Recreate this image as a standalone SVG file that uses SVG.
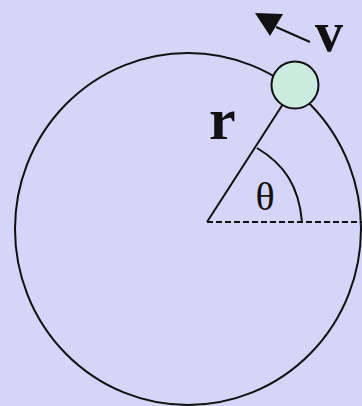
<svg xmlns="http://www.w3.org/2000/svg" width="362" height="406" viewBox="0 0 362 406">
<style>
.ln{fill:none;stroke:#111;stroke-width:2}
.lbl{font-family:"Liberation Serif",serif;fill:#111}
</style>
<rect width="362" height="406" fill="#d5d5f7"/>
<g id="orbit"><ellipse class="ln" cx="188" cy="229" rx="173" ry="176"/></g>
<g id="connectors">
<line class="ln" x1="207" y1="222" x2="283" y2="104"/>
<line class="ln" x1="207" y1="222" x2="362" y2="222" stroke-dasharray="6,3"/>
<path class="ln" d="M257,148 C284,164 299,186 302,222"/>
<line class="ln" x1="310" y1="42" x2="276" y2="27"/>
<polygon points="255,13 283,14 270,36" fill="#111"/>
</g>
<g id="ball"><circle cx="295" cy="85" r="23.5" fill="#c9ecdf" stroke="#111" stroke-width="2"/></g>
<g id="labels">
<text class="lbl" x="209" y="139" font-size="60" font-weight="bold">r</text>
<text class="lbl" x="315" y="51" font-size="56" font-weight="bold">v</text>
<text class="lbl" x="265" y="210" font-size="40" text-anchor="middle">θ</text>
</g>
</svg>
